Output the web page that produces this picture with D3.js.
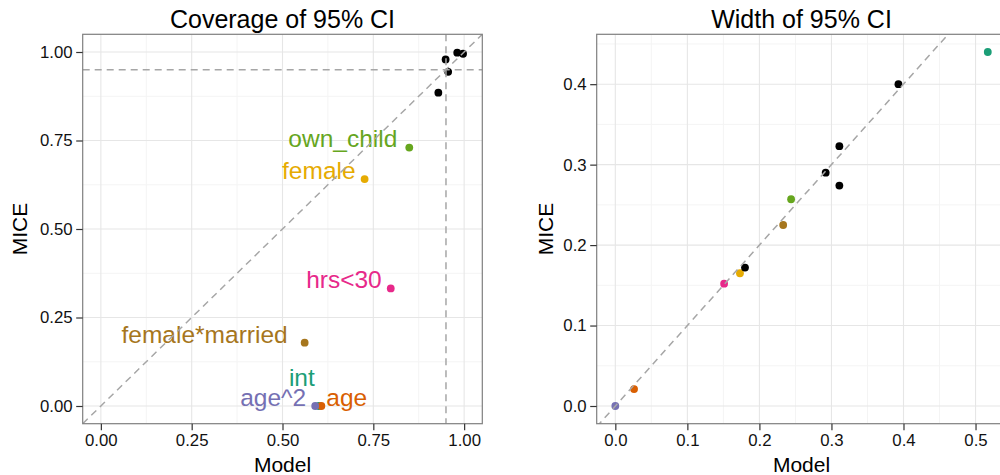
<!DOCTYPE html>
<html>
<head>
<meta charset="utf-8">
<script src="https://cdn.jsdelivr.net/npm/d3@7"></script>
<style>
  body { margin: 0; background: #fff; }
  svg { font-family: "Liberation Sans", Arial, sans-serif; }
</style>
</head>
<body>
<div class="canvas"></div>
<script>
// variables (the first seven get a colour and a label, the rest are black)
const variables = ['int', 'age', 'age^2', 'female', 'female*married', 'hrs<30', 'own_child',
  'x1', 'x2', 'x3', 'x4', 'x5'];
const labelled = ['int', 'age', 'age^2', 'hrs<30', 'own_child', 'female', 'female*married'];

// coverage of 95% CI
const coverageModel = [0.600, 0.607, 0.590, 0.726, 0.561, 0.798, 0.849, 0.981, 0.997, 0.949, 0.956, 0.929];
const coverageMice = [0.000, 0.000, 0.000, 0.641, 0.179, 0.332, 0.730, 0.998, 0.995, 0.979, 0.944, 0.885];

// width of 95% CI
const widthModel = [0.517, 0.026, 0.000, 0.173, 0.233, 0.151, 0.244, 0.393, 0.311, 0.292, 0.311, 0.180];
const widthMice = [0.440, 0.021, 0.000, 0.165, 0.225, 0.152, 0.257, 0.400, 0.323, 0.290, 0.274, 0.172];

const coverageTicks = [0, 0.25, 0.5, 0.75, 1];
const widthTicksX = [0, 0.1, 0.2, 0.3, 0.4, 0.5];
const widthTicksY = [0, 0.1, 0.2, 0.3, 0.4];
const refLine = 0.95;

// label placement next to each point (px): anchor, dx, dy
const labelNudge = {
  'int': ['middle', -17, -20],
  'age': ['start', 5, 0],
  'age^2': ['end', -9, 0],
  'female': ['end', -9, 0],
  'female*married': ['end', -17, 0],
  'hrs<30': ['end', -9, 0],
  'own_child': ['end', -12, -1]
};

const color = d3.scaleOrdinal()
  .domain(labelled)
  .range(d3.schemeDark2)
  .unknown('#000');

const svg = d3.select('.canvas')
  .append('svg')
  .attr('width', 1000)
  .attr('height', 475);

// ggplot style expansion of 5% on each side
const expand = ext => {
  const pad = (ext[1] - ext[0]) * 0.05;
  return [ext[0] - pad, ext[1] + pad];
};

const panels = [
  {
    title: 'Coverage of 95% CI',
    xs: coverageModel, ys: coverageMice,
    xdom: expand([0, 1]), ydom: expand([0, 1]),
    xticks: coverageTicks, yticks: coverageTicks, fmt: d3.format('.2f'),
    left: 82.7, right: 482.3, titleX: 27,
    labels: true, refs: true
  },
  {
    title: 'Width of 95% CI',
    xs: widthModel, ys: widthMice,
    xdom: expand(d3.extent(widthModel)), ydom: expand(d3.extent(widthMice)),
    xticks: widthTicksX, yticks: widthTicksY, fmt: d3.format('.1f'),
    left: 596.7, right: 1006.4, titleX: 553,
    labels: false, refs: false
  }
];

const panelTop = 34.3, panelBottom = 423.7;

panels.forEach(p => {
  const x = d3.scaleLinear().domain(p.xdom).range([p.left, p.right]);
  const y = d3.scaleLinear().domain(p.ydom).range([panelBottom, panelTop]);
  const g = svg.append('g');

  g.append('rect')
    .attr('x', p.left).attr('y', panelTop)
    .attr('width', p.right - p.left).attr('height', panelBottom - panelTop)
    .attr('fill', '#fff');

  // minor grid between majors
  const minor = t => d3.pairs(t).map(([a, b]) => (a + b) / 2)
    .concat([t[t.length - 1] + (t[1] - t[0]) / 2]);
  const inside = (v, dom) => v >= dom[0] && v <= dom[1];

  g.selectAll('.minx').data(minor(p.xticks).filter(v => inside(v, p.xdom)))
    .enter().append('line')
    .attr('x1', d => x(d)).attr('x2', d => x(d))
    .attr('y1', panelTop).attr('y2', panelBottom)
    .attr('stroke', '#f4f4f4').attr('stroke-width', 1);
  g.selectAll('.miny').data(minor(p.yticks).filter(v => inside(v, p.ydom)))
    .enter().append('line')
    .attr('y1', d => y(d)).attr('y2', d => y(d))
    .attr('x1', p.left).attr('x2', p.right)
    .attr('stroke', '#f4f4f4').attr('stroke-width', 1);

  // major grid
  g.selectAll('.majx').data(p.xticks)
    .enter().append('line')
    .attr('x1', d => x(d)).attr('x2', d => x(d))
    .attr('y1', panelTop).attr('y2', panelBottom)
    .attr('stroke', '#e6e6e6').attr('stroke-width', 1.1);
  g.selectAll('.majy').data(p.yticks)
    .enter().append('line')
    .attr('y1', d => y(d)).attr('y2', d => y(d))
    .attr('x1', p.left).attr('x2', p.right)
    .attr('stroke', '#e6e6e6').attr('stroke-width', 1.1);

  // points
  g.selectAll('circle')
    .data(variables.map((v, i) => ({ name: v, mx: p.xs[i], my: p.ys[i] })))
    .enter().append('circle')
    .attr('cx', d => x(d.mx))
    .attr('cy', d => y(d.my))
    .attr('r', 3.9)
    .attr('fill', d => color(d.name));

  // labels
  if (p.labels) {
    g.selectAll('.lab')
      .data(variables.map((v, i) => ({ name: v, mx: p.xs[i], my: p.ys[i] }))
        .filter(d => labelled.includes(d.name)))
      .enter().append('text')
      .attr('x', d => x(d.mx) + labelNudge[d.name][1])
      .attr('y', d => y(d.my) + labelNudge[d.name][2])
      .attr('text-anchor', d => labelNudge[d.name][0])
      .attr('font-size', 24.5)
      .attr('fill', d => color(d.name))
      .text(d => d.name);
  }

  // clip the reference lines to the panel
  const clipId = 'clip' + Math.round(p.left);
  svg.append('clipPath').attr('id', clipId)
    .append('rect')
    .attr('x', p.left).attr('y', panelTop)
    .attr('width', p.right - p.left).attr('height', panelBottom - panelTop);

  const lines = g.append('g').attr('clip-path', `url(#${clipId})`)
    .attr('stroke', '#a6a6a6').attr('stroke-width', 1.5)
    .attr('stroke-dasharray', '7,5').attr('fill', 'none');

  // y = x
  const lo = Math.min(p.xdom[0], p.ydom[0]), hi = Math.max(p.xdom[1], p.ydom[1]);
  lines.append('line')
    .attr('x1', x(lo)).attr('y1', y(lo))
    .attr('x2', x(hi)).attr('y2', y(hi));

  if (p.refs) {
    lines.append('line')
      .attr('x1', x(refLine)).attr('x2', x(refLine))
      .attr('y1', panelTop).attr('y2', panelBottom);
    lines.append('line')
      .attr('x1', p.left).attr('x2', p.right)
      .attr('y1', y(refLine)).attr('y2', y(refLine));
  }

  // border
  g.append('rect')
    .attr('x', p.left).attr('y', panelTop)
    .attr('width', p.right - p.left).attr('height', panelBottom - panelTop)
    .attr('fill', 'none').attr('stroke', '#7f7f7f').attr('stroke-width', 1.2);

  // axes
  const xAxis = g.append('g')
    .attr('transform', `translate(0,${panelBottom})`)
    .call(d3.axisBottom(x).tickValues(p.xticks).tickFormat(p.fmt).tickSize(6.5).tickPadding(4));
  const yAxis = g.append('g')
    .attr('transform', `translate(${p.left},0)`)
    .call(d3.axisLeft(y).tickValues(p.yticks).tickFormat(p.fmt).tickSize(6.5).tickPadding(3.5));

  [xAxis, yAxis].forEach(a => {
    a.select('.domain').remove();
    a.selectAll('.tick line').attr('stroke', '#333').attr('stroke-width', 1.2);
    a.selectAll('.tick text')
      .attr('fill', '#111')
      .attr('font-size', 16.8)
      .attr('font-family', '"Liberation Sans", Arial, sans-serif');
  });

  // titles
  const mid = (p.left + p.right) / 2;
  g.append('text')
    .attr('x', mid).attr('y', 28)
    .attr('text-anchor', 'middle')
    .attr('font-size', 25)
    .text(p.title);
  g.append('text')
    .attr('x', mid).attr('y', 471.5)
    .attr('text-anchor', 'middle')
    .attr('font-size', 21)
    .text('Model');
  g.append('text')
    .attr('transform', `translate(${p.titleX},${(panelTop + panelBottom) / 2}) rotate(-90)`)
    .attr('text-anchor', 'middle')
    .attr('font-size', 21)
    .text('MICE');
});
</script>
</body>
</html>
